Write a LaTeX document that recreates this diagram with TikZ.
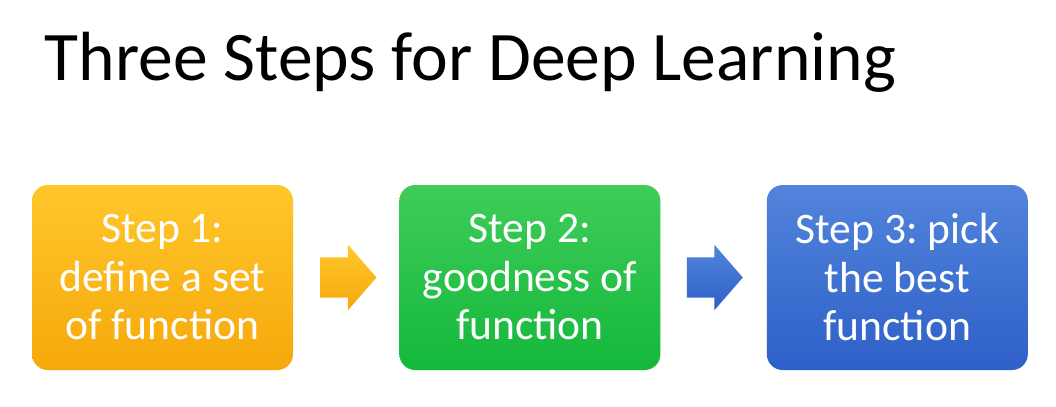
\documentclass[tikz,border=0pt]{standalone}
\usepackage{fontspec}
\setmainfont{Carlito}
\usepackage{tikz}
\usetikzlibrary{positioning, calc, shapes.arrows}
\definecolor{stepambertop}{HTML}{FFC72C}
\definecolor{stepamberbot}{HTML}{F5A80A}
\definecolor{stepgreentop}{HTML}{3FCC58}
\definecolor{stepgreenbot}{HTML}{14B83C}
\definecolor{stepbluetop}{HTML}{5284DC}
\definecolor{stepbluebot}{HTML}{2E60C8}
\frenchspacing
\tikzset{
  every node/.style={font=\fontsize{12.4}{13.8}\selectfont},
  stepbox/.style={
    rectangle, rounded corners=4.5pt, draw=none,
    minimum width=2.61cm, minimum height=1.85cm, inner sep=0pt,
    align=center, text=white,
    font=\fontsize{12.4}{13.8}\selectfont
  },
  amberbox/.style={stepbox, top color=stepambertop, bottom color=stepamberbot},
  greenbox/.style={stepbox, top color=stepgreentop, bottom color=stepgreenbot},
  bluebox/.style={stepbox, top color=stepbluetop, bottom color=stepbluebot},
  blockarrow/.style={
    single arrow, draw=none, inner xsep=0pt, inner ysep=0.195cm,
    minimum height=0.56cm, anchor=tail,
    single arrow head extend=0.125cm, single arrow tip angle=98
  },
  titletext/.style={font=\fontsize{19.8}{22}\selectfont, anchor=base west, inner sep=0pt}
}
\begin{document}
\begin{tikzpicture}
\useasboundingbox[fill=white] (0,0) rectangle (10.56,-4.06);

% Title
\node[titletext] (title) at (0.44,-0.80) {Three Steps for Deep Learning};

% The three steps
\node[amberbox] (step1) at (1.625,-2.775) {Step 1:\\define a set\\of function};
\node[greenbox, right=1.05cm of step1] (step2) {Step 2:\\goodness of\\function};
\node[bluebox, right=1.05cm of step2] (step3) {Step 3: pick\\the best\\function};

% Arrows between steps
\node[blockarrow, top color=stepambertop, bottom color=stepamberbot]
  (arrow12) at ($(step1.east)+(0.26,0)$) {};
\node[blockarrow, top color=stepbluetop, bottom color=stepbluebot]
  (arrow23) at ($(step2.east)+(0.25,0)$) {};

\end{tikzpicture}
\end{document}
